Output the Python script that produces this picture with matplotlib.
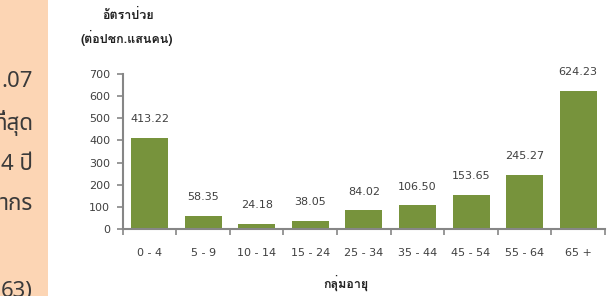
import matplotlib
matplotlib.use("Agg")
import matplotlib.pyplot as plt
from matplotlib.patches import Rectangle
import numpy as np

# ---- data ----
age_groups = ["0 - 4", "5 - 9", "10 - 14", "15 - 24", "25 - 34",
              "35 - 44", "45 - 54", "55 - 64", "65 +"]
rates = [413.22, 58.35, 24.18, 38.05, 84.02, 106.50, 153.65, 245.27, 624.23]
y_ticks = [0, 100, 200, 300, 400, 500, 600, 700]
side_text = [".07", "ที่สุด", "4 ปี", "ากร", "63)"]

FONT = ["DejaVu Sans", "Loma"]
THAI = ["Loma", "DejaVu Sans"]
BAR = "#77933C"
AXIS = "#868686"
TXT = "#404040"

plt.rcParams["font.family"] = FONT

fig = plt.figure(figsize=(6.14, 2.96), dpi=100)
W, H = 614, 296

# peach side panel; its paragraph is cut by the left edge as in the source
fig.patches.append(Rectangle((0, 0), 48 / W, 1, transform=fig.transFigure,
                             facecolor="#FCD5B4", edgecolor="none", zorder=0))
for s, yp in zip(side_text, [82, 123, 165, 205, 291]):
    fig.text(33 / W, 1 - yp / H, s, ha="right", va="center", fontsize=16,
             color="#3a3a3a", family=["Noto Sans", "Noto Sans Thai"])

ax = fig.add_axes([122.7 / W, 1 - 229 / H, (605 - 122.7) / W, (229 - 74) / H])
x = np.arange(len(age_groups))
bars = ax.bar(x, rates, width=0.69, color=BAR, zorder=2)
for b, v in zip(bars, rates):
    ax.annotate(f"{v:.2f}", (b.get_x() + b.get_width() / 2, v),
                xytext=(0, 10), textcoords="offset points",
                ha="center", va="bottom", fontsize=8, color=TXT)

ax.set_xlim(-0.5, len(age_groups) - 0.5)
ax.set_ylim(0, 700)
ax.set_yticks(y_ticks)
ax.set_xticks(x)
ax.set_xticklabels(age_groups)
ax.set_xticks(np.arange(len(age_groups) + 1) - 0.5, minor=True)
ax.tick_params(axis="x", which="major", length=0, pad=14, labelsize=8, labelcolor=TXT)
ax.tick_params(axis="x", which="minor", length=4, width=1.2, color=AXIS, direction="out")
ax.tick_params(axis="y", length=4, width=1.2, color=AXIS, pad=5, labelsize=8, labelcolor=TXT)
for sp in ["top", "right"]:
    ax.spines[sp].set_visible(False)
for sp in ["left", "bottom"]:
    ax.spines[sp].set_color(AXIS)
    ax.spines[sp].set_linewidth(1.5)

fig.text(128 / W, 1 - 15 / H, "อัตราป่วย", ha="center", va="center",
         fontsize=9, fontweight="bold", color="#222222", family=THAI)
fig.text(127 / W, 1 - 38 / H, "(ต่อปชก.แสนคน)", ha="center", va="center",
         fontsize=9, fontweight="bold", color="#222222", family=THAI)
fig.text(346 / W, 1 - 283 / H, "กลุ่มอายุ", ha="center", va="center",
         fontsize=9, fontweight="bold", color="#222222", family=THAI)

fig.savefig("out.png", dpi=100)
